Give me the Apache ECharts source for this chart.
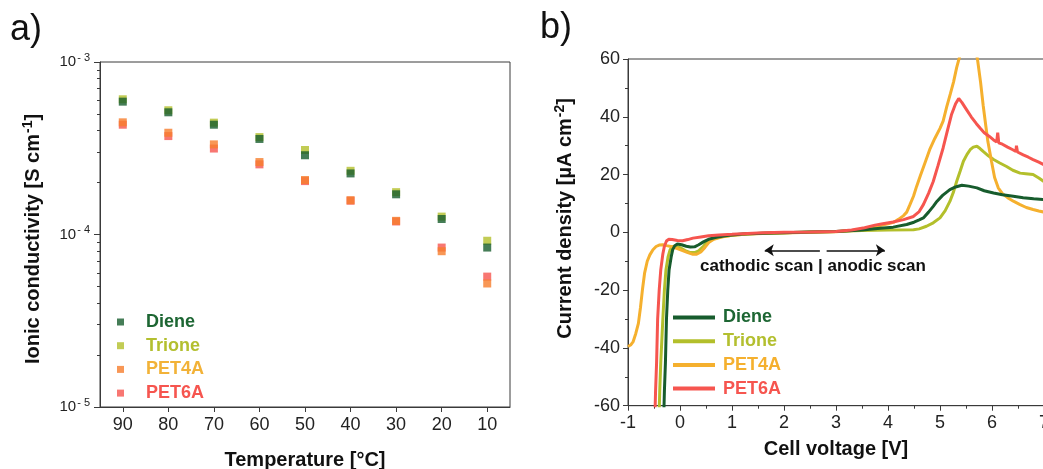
<!DOCTYPE html>
<html>
<head>
<meta charset="utf-8">
<script src="https://cdn.jsdelivr.net/npm/echarts@6/dist/echarts.min.js"></script>
<style>
  html, body { margin: 0; padding: 0; background: #fff; }
  #chart { width: 1043px; height: 469px; }
</style>
</head>
<body>
<div id="chart"></div>
<script>
// ---- a) ionic conductivity vs temperature ----
const temperatures = [90, 80, 70, 60, 50, 40, 30, 20, 10];
const dieneSigma  = [5.89e-4, 5.11e-4, 4.33e-4, 3.58e-4, 2.88e-4, 2.26e-4, 1.71e-4, 1.23e-4, 8.4e-5];
const trioneSigma = [6.08e-4, 5.25e-4, 4.45e-4, 3.67e-4, 3.09e-4, 2.34e-4, 1.76e-4, 1.27e-4, 9.2e-5];
const pet4aSigma  = [4.47e-4, 3.89e-4, 3.33e-4, 2.63e-4, 2.07e-4, 1.58e-4, 1.20e-4, 8.0e-5, 5.2e-5];
const pet6aSigma  = [4.33e-4, 3.72e-4, 3.15e-4, 2.55e-4, 2.04e-4, 1.57e-4, 1.19e-4, 8.4e-5, 5.7e-5];

const temperatureTicks = [10, 20, 30, 40, 50, 60, 70, 80, 90];
const decadeTicks = [1e-5, 1e-4, 1e-3];
const minorDecadeTicks = [2e-5, 3e-5, 4e-5, 5e-5, 6e-5, 7e-5, 8e-5, 9e-5,
                          2e-4, 3e-4, 4e-4, 5e-4, 6e-4, 7e-4, 8e-4, 9e-4];

// ---- b) linear sweep voltammetry, [cell voltage V, current density µA cm-2] ----
const dieneLSV = [
  [-0.31, -62], [-0.30, -55], [-0.28, -45], [-0.26, -30], [-0.235, -20], [-0.21, -13],
  [-0.17, -8.5], [-0.14, -6], [-0.10, -4.6], [-0.05, -4.0], [0.03, -4.3], [0.12, -4.8],
  [0.2, -5.1], [0.28, -5.0], [0.36, -4.3], [0.45, -3.3], [0.55, -2.4], [0.7, -1.7],
  [0.9, -1.1], [1.2, -0.6], [1.6, -0.3], [2.0, -0.1], [2.5, 0.1], [3.0, 0.3], [3.5, 0.8],
  [3.85, 1.4], [4.1, 1.8], [4.36, 2.7], [4.5, 3.5], [4.6, 4.3], [4.68, 5.0], [4.78, 7],
  [4.87, 9], [4.94, 10.7], [5.05, 12.8], [5.19, 14.8], [5.3, 15.7], [5.42, 16.3],
  [5.55, 16], [5.71, 15.4], [5.85, 14.4], [6.03, 13.6], [6.2, 13], [6.41, 12.5],
  [6.6, 12], [6.8, 11.6], [7.0, 11.3]
];
const trioneLSV = [
  [-0.40, -62], [-0.39, -55], [-0.37, -45], [-0.33, -30], [-0.30, -20], [-0.27, -13],
  [-0.23, -8.5], [-0.19, -6], [-0.14, -4.9], [-0.08, -4.8], [0.0, -5.3], [0.1, -6.3],
  [0.2, -7.0], [0.28, -7.0], [0.36, -6.4], [0.45, -4.8], [0.53, -3.2], [0.62, -2.2],
  [0.8, -1.5], [1.0, -1.0], [1.3, -0.6], [1.6, -0.3], [2.0, -0.1], [2.5, 0.1], [3.0, 0.3],
  [3.5, 0.6], [4.0, 0.8], [4.49, 0.9], [4.6, 1.2], [4.74, 2.1], [4.87, 3.3], [5.0, 5],
  [5.1, 7.5], [5.19, 10.7], [5.26, 14], [5.32, 17.6], [5.39, 21.3], [5.45, 24.6],
  [5.52, 27], [5.58, 28.6], [5.64, 29.5], [5.71, 29.8], [5.77, 29], [5.83, 28],
  [5.93, 26.5], [6.03, 25.2], [6.15, 24], [6.28, 22.8], [6.4, 21.5], [6.54, 20.5],
  [6.65, 20.3], [6.79, 20], [6.9, 18.8], [7.0, 17.6]
];
const pet4aLSV = [
  [-1.00, -39.5], [-0.95, -39.0], [-0.90, -37.8], [-0.85, -35.0], [-0.80, -31.5],
  [-0.76, -26], [-0.72, -19.5], [-0.68, -14], [-0.63, -10], [-0.58, -7.8], [-0.52, -6.0],
  [-0.46, -4.9], [-0.40, -4.4], [-0.33, -4.3], [-0.26, -4.6], [-0.15, -5.0], [-0.05, -5.6],
  [0.05, -6.3], [0.15, -7.0], [0.25, -7.6], [0.32, -7.6], [0.40, -6.8], [0.48, -5.2],
  [0.56, -3.4], [0.65, -2.4], [0.8, -1.6], [1.0, -1.0], [1.3, -0.6], [1.6, -0.4],
  [2.0, -0.2], [2.5, 0], [3.0, 0.2], [3.3, 0.6], [3.6, 1.5], [3.85, 2.4], [4.0, 3.0],
  [4.12, 3.6], [4.2, 4.5], [4.3, 5.8], [4.36, 7], [4.42, 9.5], [4.49, 12.5], [4.55, 15.9],
  [4.62, 19.5], [4.7, 23.5], [4.81, 29], [4.9, 32.5], [5.0, 36], [5.06, 38.5],
  [5.13, 43.5], [5.2, 48], [5.26, 52], [5.32, 57], [5.38, 61], [5.45, 64.5],
  [5.55, 66.5], [5.63, 66], [5.68, 63.5], [5.72, 60], [5.78, 52], [5.83, 44],
  [5.88, 37], [5.92, 31.5], [5.99, 24.6], [6.05, 19], [6.12, 15.4], [6.2, 13.4],
  [6.3, 12], [6.42, 10.7], [6.54, 9.6], [6.66, 8.6], [6.79, 7.9], [6.9, 7.4], [7.0, 7.0]
];
const pet6aLSV = [
  [-0.48, -62], [-0.47, -55], [-0.45, -45], [-0.43, -30], [-0.40, -20], [-0.37, -13],
  [-0.33, -7.5], [-0.30, -4.8], [-0.26, -3.0], [-0.22, -2.4], [-0.15, -2.5], [-0.05, -2.8],
  [0.05, -2.9], [0.15, -2.5], [0.25, -2.0], [0.4, -1.6], [0.55, -1.2], [0.75, -0.9],
  [1.0, -0.7], [1.3, -0.4], [1.6, -0.1], [2.0, 0], [2.5, 0.1], [3.0, 0.3], [3.3, 0.8],
  [3.55, 1.6], [3.75, 2.5], [3.9, 3.0], [4.1, 3.6], [4.3, 4.4], [4.49, 5.5], [4.6, 7.2],
  [4.68, 9.6], [4.78, 13.5], [4.87, 17.6], [4.96, 23], [5.06, 29.2], [5.14, 35],
  [5.22, 40.7], [5.3, 44.5], [5.36, 46.3], [5.42, 45], [5.51, 42.5], [5.6, 40],
  [5.7, 37.6], [5.77, 36.1], [5.85, 34.5], [5.95, 33.2], [6.03, 32], [6.09, 31.3],
  [6.11, 34.5], [6.13, 31], [6.2, 30.5], [6.3, 29.5], [6.4, 28.6], [6.46, 28],
  [6.47, 30], [6.49, 27.8], [6.6, 26.8], [6.7, 26], [6.79, 25.2], [6.9, 24.3], [7.0, 23.4]
];

// scan-direction arrows, in data coordinates of panel b)
const cathodicArrow = [[2.69, -6.2], [1.63, -6.2]];
const anodicArrow = [[2.82, -6.2], [3.94, -6.2]];

const FONT = "'Liberation Sans', Arial, sans-serif";
const AXIS_COLOR = '#3a3a3a';
const C = {
  diene: '#175c2d',
  trione: '#b3bf2b',
  pet4aMarker: '#f67d2c',
  pet4aLine: '#f5b02e',
  pet4aText: '#f2b238',
  pet6a: '#f6554f'
};

const supRich = {
  b: { fontSize: 15, fontFamily: FONT, color: '#222' },
  s: { fontSize: 11, fontFamily: FONT, color: '#222', padding: [0, 0, 9, 1] }
};

const chart = echarts.init(document.getElementById('chart'), null, { renderer: 'canvas' });

const pairs = (xs, ys) => xs.map((x, i) => [x, ys[i]]);

chart.setOption({
  animation: false,
  backgroundColor: '#ffffff',
  textStyle: { fontFamily: FONT },
  grid: [
    { left: 100, top: 62, width: 410, height: 345, outerBoundsMode: 'none', containLabel: false,
      show: true, borderColor: AXIS_COLOR, borderWidth: 1, backgroundColor: 'transparent' },
    { left: 628, top: 59, width: 416, height: 346.7, outerBoundsMode: 'none', containLabel: false,
      show: true, borderColor: AXIS_COLOR, borderWidth: 1, backgroundColor: 'transparent' }
  ],
  xAxis: [
    {
      gridIndex: 0, type: 'value', inverse: true, min: 5, max: 95,
      name: 'Temperature [°C]', nameLocation: 'middle', nameGap: 43,
      nameTextStyle: { fontSize: 20, fontWeight: 'bold', color: '#111', fontFamily: FONT },
      axisLine: { show: true, onZero: false, lineStyle: { color: AXIS_COLOR, width: 1 } },
      axisTick: { show: true, inside: false, length: 5, customValues: temperatureTicks, lineStyle: { color: AXIS_COLOR } },
      axisLabel: { show: true, margin: 9, fontSize: 18, color: '#222', customValues: temperatureTicks },
      splitLine: { show: false }
    },
    {
      gridIndex: 1, type: 'value', min: -1, max: 7, interval: 1,
      name: 'Cell voltage [V]', nameLocation: 'middle', nameGap: 34,
      nameTextStyle: { fontSize: 20, fontWeight: 'bold', color: '#111', fontFamily: FONT },
      axisLine: { show: true, onZero: false, lineStyle: { color: AXIS_COLOR, width: 1 } },
      axisTick: { show: true, inside: false, length: 5, lineStyle: { color: AXIS_COLOR } },
      minorTick: { show: true, splitNumber: 2, length: 3, lineStyle: { color: AXIS_COLOR } },
      axisLabel: { show: true, margin: 8, fontSize: 18, color: '#222', showMaxLabel: true, hideOverlap: false },
      splitLine: { show: false }
    }
  ],
  yAxis: [
    {
      gridIndex: 0, type: 'log', logBase: 10, min: 1e-5, max: 1e-3, position: 'left',
      name: 'Ionic conductivity [S cm{s|-1}]', nameLocation: 'middle', nameGap: 55,
      nameTextStyle: {
        fontSize: 20, fontWeight: 'bold', color: '#111', fontFamily: FONT, padding: [0, 9, 0, 0],
        rich: { s: { fontSize: 14, fontWeight: 'bold', color: '#111', fontFamily: FONT, padding: [0, 0, 10, 1] } }
      },
      axisLine: { show: true, onZero: false, lineStyle: { color: AXIS_COLOR, width: 1 } },
      axisTick: { show: true, inside: false, length: 6, customValues: decadeTicks, lineStyle: { color: AXIS_COLOR } },
      axisLabel: {
        show: true, margin: 10, customValues: decadeTicks,
        formatter: v => '{b|10}{s|- ' + Math.abs(Math.round(Math.log10(v))) + '}',
        rich: supRich
      },
      splitLine: { show: false }
    },
    {
      // minor decade ticks (2..9) for the log axis
      gridIndex: 0, type: 'log', logBase: 10, min: 1e-5, max: 1e-3, position: 'left', offset: 0,
      axisLine: { show: false },
      axisTick: { show: true, inside: false, length: 3, customValues: minorDecadeTicks, lineStyle: { color: AXIS_COLOR } },
      axisLabel: { show: false },
      splitLine: { show: false }
    },
    {
      gridIndex: 1, type: 'value', min: -60, max: 60, interval: 20,
      name: 'Current density [µA cm{s|-2}]', nameLocation: 'middle', nameGap: 51,
      nameTextStyle: {
        fontSize: 20, fontWeight: 'bold', color: '#111', fontFamily: FONT, padding: [0, 0, 0, 28],
        rich: { s: { fontSize: 14, fontWeight: 'bold', color: '#111', fontFamily: FONT, padding: [0, 0, 10, 1] } }
      },
      axisLine: { show: true, onZero: false, lineStyle: { color: AXIS_COLOR, width: 1 } },
      axisTick: { show: true, inside: false, length: 5, lineStyle: { color: AXIS_COLOR } },
      minorTick: { show: true, splitNumber: 2, length: 3, lineStyle: { color: AXIS_COLOR } },
      axisLabel: { show: true, margin: 8, fontSize: 18, color: '#222' },
      splitLine: { show: false }
    }
  ],
  legend: [
    {
      orient: 'vertical', left: 112, top: 307, icon: 'rect', itemWidth: 7, itemHeight: 7, itemGap: 3.7,
      textStyle: { fontSize: 18, fontWeight: 'bold', fontFamily: FONT, lineHeight: 20, padding: [0, 0, 0, 17] },
      data: [
        { name: 'Diene', textStyle: { color: '#1d6633' } },
        { name: 'Trione', textStyle: { color: '#b3bf2f' } },
        { name: 'PET4A', textStyle: { color: C.pet4aText } },
        { name: 'PET6A', textStyle: { color: C.pet6a } }
      ],
      selectedMode: false
    },
    {
      orient: 'vertical', left: 668, top: 302.5, icon: 'rect', itemWidth: 42, itemHeight: 4, itemGap: 3.7,
      textStyle: { fontSize: 18, fontWeight: 'bold', fontFamily: FONT, lineHeight: 20, padding: [0, 0, 0, 3] },
      data: [
        { name: 'Diene ', textStyle: { color: '#1d6633' } },
        { name: 'Trione ', textStyle: { color: '#b3bf2f' } },
        { name: 'PET4A ', textStyle: { color: C.pet4aLine } },
        { name: 'PET6A ', textStyle: { color: C.pet6a } }
      ],
      selectedMode: false
    }
  ],
  graphic: [
    { type: 'text', left: 10, top: 12, style: { text: 'a)', font: '36px ' + FONT, fill: '#111' } },
    { type: 'text', left: 540, top: 10, style: { text: 'b)', font: '36px ' + FONT, fill: '#111' } },
    { type: 'text', left: 700, top: 258, style: { text: 'cathodic scan | anodic scan', font: 'bold 17px ' + FONT, fill: '#111' } }
  ],
  series: [
    // panel a)
    { name: 'Diene', type: 'scatter', xAxisIndex: 0, yAxisIndex: 0, z: 4, symbol: 'rect', symbolSize: 8,
      itemStyle: { color: C.diene }, data: pairs(temperatures, dieneSigma) },
    { name: 'Trione', type: 'scatter', xAxisIndex: 0, yAxisIndex: 0, z: 3, symbol: 'rect', symbolSize: 8,
      itemStyle: { color: C.trione }, data: pairs(temperatures, trioneSigma) },
    { name: 'PET4A', type: 'scatter', xAxisIndex: 0, yAxisIndex: 0, z: 3, symbol: 'rect', symbolSize: 8,
      itemStyle: { color: C.pet4aMarker }, data: pairs(temperatures, pet4aSigma) },
    { name: 'PET6A', type: 'scatter', xAxisIndex: 0, yAxisIndex: 0, z: 2, symbol: 'rect', symbolSize: 8,
      itemStyle: { color: C.pet6a }, data: pairs(temperatures, pet6aSigma) },
    // panel b)
    { name: 'Diene ', type: 'line', xAxisIndex: 1, yAxisIndex: 2, showSymbol: false, clip: true, z: 3,
      lineStyle: { color: C.diene, width: 3 }, itemStyle: { color: C.diene }, data: dieneLSV,
      markLine: {
        silent: true, symbol: ['none', 'arrow'], symbolSize: [9, 9], label: { show: false },
        lineStyle: { color: '#111', width: 1.5, type: 'solid' },
        data: [
          [{ coord: cathodicArrow[0] }, { coord: cathodicArrow[1] }],
          [{ coord: anodicArrow[0] }, { coord: anodicArrow[1] }]
        ]
      } },
    { name: 'Trione ', type: 'line', xAxisIndex: 1, yAxisIndex: 2, showSymbol: false, clip: true, z: 2,
      lineStyle: { color: C.trione, width: 3 }, itemStyle: { color: C.trione }, data: trioneLSV },
    { name: 'PET4A ', type: 'line', xAxisIndex: 1, yAxisIndex: 2, showSymbol: false, clip: true, z: 2,
      lineStyle: { color: C.pet4aLine, width: 3 }, itemStyle: { color: C.pet4aLine }, data: pet4aLSV },
    { name: 'PET6A ', type: 'line', xAxisIndex: 1, yAxisIndex: 2, showSymbol: false, clip: true, z: 4,
      lineStyle: { color: C.pet6a, width: 3 }, itemStyle: { color: C.pet6a }, data: pet6aLSV }
  ]
});
</script>
</body>
</html>
